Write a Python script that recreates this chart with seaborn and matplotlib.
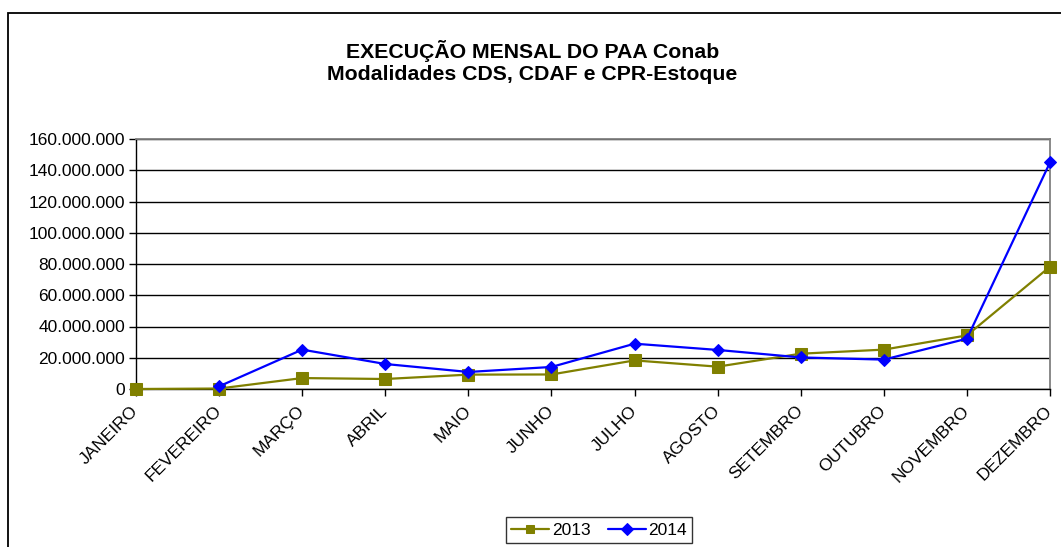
import numpy as np
import pandas as pd
import matplotlib
matplotlib.use("Agg")
import matplotlib.pyplot as plt
import seaborn as sns
from matplotlib.ticker import FuncFormatter, MultipleLocator
from matplotlib.patches import Rectangle

# ---------------------------------------------------------------------------
# Data (in R$)
# ---------------------------------------------------------------------------
months = ['JANEIRO', 'FEVEREIRO', 'MARÇO', 'ABRIL', 'MAIO', 'JUNHO',
          'JULHO', 'AGOSTO', 'SETEMBRO', 'OUTUBRO', 'NOVEMBRO', 'DEZEMBRO']
values_2013 = [0, 300_000, 7_000_000, 6_400_000, 9_200_000, 9_300_000,
               18_300_000, 14_300_000, 22_600_000, 25_200_000, 34_300_000, 78_300_000]
values_2014 = [np.nan, 1_700_000, 25_200_000, 16_000_000, 10_900_000, 14_100_000,
               29_000_000, 25_000_000, 20_200_000, 18_800_000, 32_200_000, 145_000_000]
years = ['2013', '2014']

df = pd.DataFrame({
    'pos': list(range(len(months))) * 2,
    'valor': values_2013 + values_2014,
    'ano': [years[0]] * len(months) + [years[1]] * len(months),
}).dropna()

# ---------------------------------------------------------------------------
# Plot
# ---------------------------------------------------------------------------
sns.set_style('white')
plt.rcParams['font.family'] = ['Liberation Sans', 'DejaVu Sans']
plt.rcParams['text.color'] = 'black'

fig = plt.figure(figsize=(10.61, 5.47), dpi=100)
ax = fig.add_axes([136 / 1061, 1 - 389 / 547, (1050 - 136) / 1061, (389 - 139) / 547])

# outer chart border
fig.patches.append(Rectangle((8 / 1061, -0.1), 1.2, 1 - 13 / 547 + 0.1,
                             transform=fig.transFigure, fill=False,
                             edgecolor='black', linewidth=1.3, zorder=0))

palette = {'2013': '#808000', '2014': '#0000FF'}
markers = {'2013': 's', '2014': 'D'}
sizes = {'2013': 9, '2014': 6.5}

for ano in years:
    sub = df[df['ano'] == ano]
    sns.lineplot(data=sub, x='pos', y='valor', ax=ax, color=palette[ano],
                 marker=markers[ano], markersize=sizes[ano], linewidth=1.6,
                 markeredgecolor=palette[ano], label=ano, clip_on=False,
                 zorder=3, legend=False)

ax.set_xlim(0, len(months) - 1)
ax.set_ylim(0, 160_000_000)
ax.yaxis.set_major_locator(MultipleLocator(20_000_000))
ax.yaxis.set_major_formatter(FuncFormatter(lambda v, p: f'{int(v):,}'.replace(',', '.')))
ax.set_xticks(range(len(months)))
ax.set_xticklabels(months, rotation=45, ha='right', va='center', rotation_mode='anchor')
ax.set_xlabel('')
ax.set_ylabel('')
ax.tick_params(axis='both', labelsize=12.5, colors='black', length=5, width=1,
               direction='out', bottom=True, left=True)
ax.tick_params(axis='x', pad=9)
ax.tick_params(axis='y', pad=3)

ax.grid(axis='y', color='black', linewidth=1)
ax.grid(axis='x', visible=False)
for side in ['left', 'bottom']:
    ax.spines[side].set_color('black')
    ax.spines[side].set_linewidth(1)
for side in ['top', 'right']:
    ax.spines[side].set_color('#808080')
    ax.spines[side].set_linewidth(1.3)
    ax.spines[side].set_visible(True)

fig.text(0.502, 1 - 62 / 547, 'EXECUÇÃO MENSAL DO PAA Conab\nModalidades CDS, CDAF e CPR-Estoque',
         ha='center', va='center', fontsize=15.3, fontweight='bold', linespacing=1.15,
         color='black')

leg = fig.legend(handles=ax.get_lines(), labels=years, loc='center',
                 bbox_to_anchor=(599 / 1061, 1 - 530 / 547), ncol=2, frameon=True,
                 fontsize=12.5, handlelength=2.2, handletextpad=0.15, columnspacing=1.0,
                 borderpad=0.3, fancybox=False, edgecolor='black')
leg.get_frame().set_linewidth(1)
for h in leg.legend_handles:
    h.set_markersize(6)

fig.savefig('out.png', dpi=100)
